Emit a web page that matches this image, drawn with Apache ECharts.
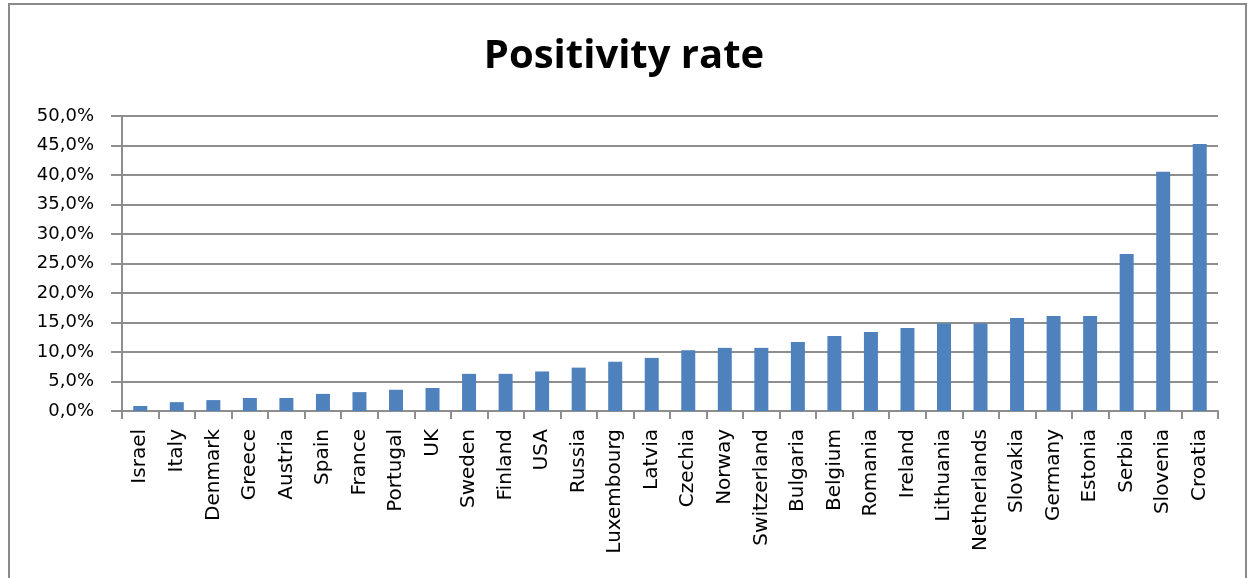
<!DOCTYPE html>
<html>
<head>
<meta charset="utf-8">
<script src="https://cdn.jsdelivr.net/npm/echarts@6/dist/echarts.min.js"></script>
<style>
  html, body { margin: 0; padding: 0; background: #fff; }
  #chart { width: 1248px; height: 578px; }
</style>
</head>
<body>
<div id="chart"></div>
<script>
// Test positivity rate by country (%)
const countries = ['Israel', 'Italy', 'Denmark', 'Greece', 'Austria', 'Spain', 'France', 'Portugal', 'UK',
  'Sweden', 'Finland', 'USA', 'Russia', 'Luxembourg', 'Latvia', 'Czechia', 'Norway', 'Switzerland',
  'Bulgaria', 'Belgium', 'Romania', 'Ireland', 'Lithuania', 'Netherlands', 'Slovakia', 'Germany',
  'Estonia', 'Serbia', 'Slovenia', 'Croatia'];
const positivity = [0.85, 1.5, 1.85, 2.2, 2.2, 2.9, 3.2, 3.6, 3.9,
  6.3, 6.3, 6.7, 7.35, 8.35, 9.0, 10.3, 10.7, 10.7,
  11.7, 12.7, 13.4, 14.05, 14.85, 14.85, 15.75, 16.1,
  16.1, 26.6, 40.55, 45.25];
const yTicks = { min: 0, max: 50, step: 5 };
const titleText = 'Positivity rate';

const chart = echarts.init(document.getElementById('chart'), null, { renderer: 'canvas' });
const gridColor = '#8e8e8e';

chart.setOption({
  animation: false,
  backgroundColor: '#ffffff',
  title: {
    text: titleText,
    left: 'center',
    top: 32,
    textStyle: { fontFamily: 'Open Sans', fontWeight: 'bold', fontSize: 40, color: '#000' }
  },
  graphic: [{
    type: 'rect',
    shape: { x: 9, y: 4, width: 1237, height: 620 },
    style: { fill: 'none', stroke: '#8a8a8a', lineWidth: 2 },
    silent: true
  }],
  grid: { left: 122, right: 30, top: 116, bottom: 167 },
  xAxis: {
    type: 'category',
    data: countries,
    axisLine: { show: true, lineStyle: { color: gridColor, width: 2 } },
    axisTick: { show: true, alignWithLabel: false, length: 8, lineStyle: { color: gridColor, width: 2 } },
    axisLabel: {
      interval: 0,
      rotate: 90,
      margin: 18,
      color: '#000',
      fontFamily: 'DejaVu Sans',
      fontSize: 20
    }
  },
  yAxis: {
    type: 'value',
    min: yTicks.min,
    max: yTicks.max,
    interval: yTicks.step,
    axisLine: { show: true, lineStyle: { color: gridColor, width: 2 } },
    axisTick: { show: true, length: 11, lineStyle: { color: gridColor, width: 2 } },
    splitLine: { show: true, lineStyle: { color: gridColor, width: 2 } },
    axisLabel: {
      margin: 28,
      color: '#000',
      fontFamily: 'DejaVu Sans',
      fontSize: 18,
      formatter: v => v.toFixed(1).replace('.', ',') + '%'
    }
  },
  series: [{
    type: 'bar',
    data: positivity,
    barWidth: 14,
    itemStyle: { color: '#4f81bd' }
  }]
});
</script>
</body>
</html>
